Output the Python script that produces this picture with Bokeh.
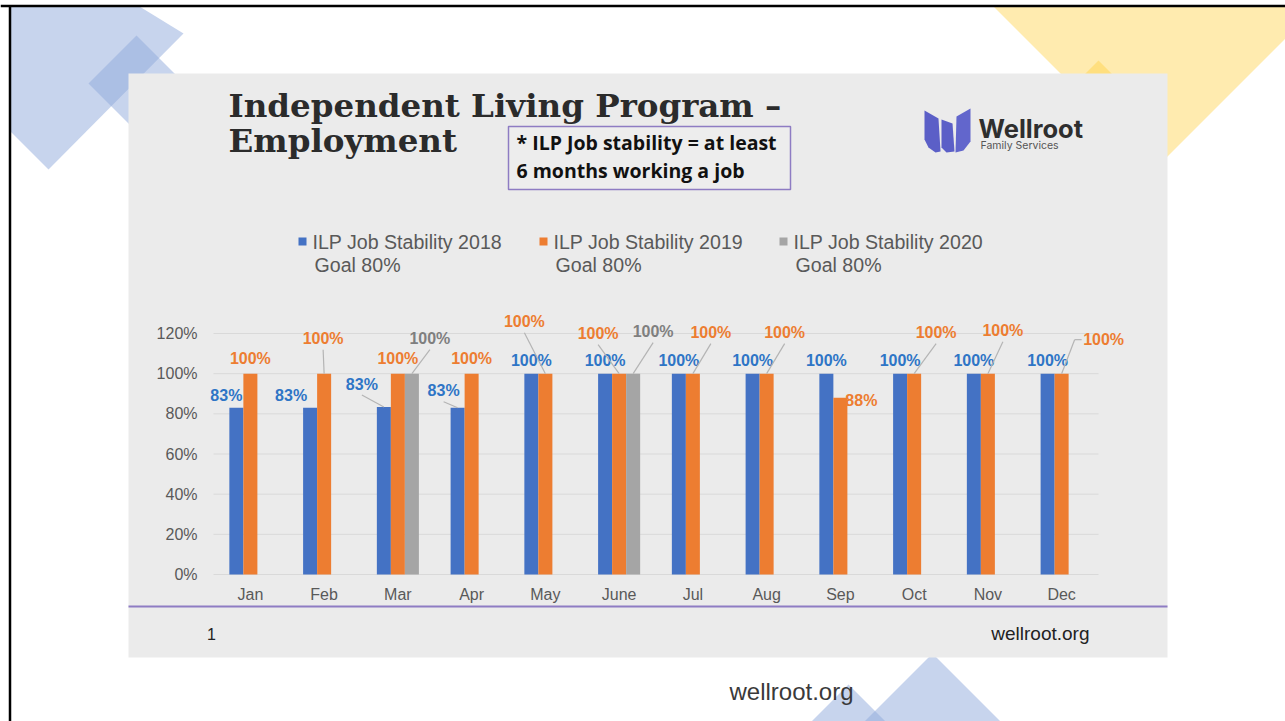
from bokeh.plotting import figure
from bokeh.plotting.glyph_api import GlyphAPI
from bokeh.models import (Range1d, FactorRange, ColumnDataSource, CategoricalScale, LinearScale,
                          CoordinateMapping)
from bokeh.transform import dodge
from bokeh.core.properties import value
from bokeh.embed import file_html
from bokeh.resources import INLINE

# ---------------- data ----------------
months = ["Jan", "Feb", "Mar", "Apr", "May", "June", "Jul", "Aug", "Sep", "Oct", "Nov", "Dec"]
series_names = ["ILP Job Stability 2018", "ILP Job Stability 2019", "ILP Job Stability 2020"]
series_sub = ["Goal 80%", "Goal 80%", "Goal 80%"]
v2018 = [0.83, 0.83, 0.834, 0.83, 1.0, 1.0, 1.0, 1.0, 1.0, 1.0, 1.0, 1.0]
v2019 = [1.0, 1.0, 1.0, 1.0, 1.0, 1.0, 1.0, 1.0, 0.88, 1.0, 1.0, 1.0]
v2020 = [None, None, 1.0, None, None, 1.0, None, None, None, None, None, None]
y_ticks = [0, 0.2, 0.4, 0.6, 0.8, 1.0, 1.2]
y_tick_labels = ["0%", "20%", "40%", "60%", "80%", "100%", "120%"]

# ---------------- styling ----------------
colors = ["#4472c4", "#ed7d31", "#a5a5a5"]
label_colors = ["#2e75c6", "#ed7d31", "#7f7f7f"]
bar_offsets = [-0.19, 0.0, 0.19]
bar_width = 0.19
# label offsets in pixels (dx right, dy up) relative to bar top centre, leader kind
lab_dx = [
    [-10, -19, -22, -14, 0, 0, 0, 0, 0, 0, 0, 0],
    [0, -1, 0, 0, -21, -21, 18, 18, 21, 22, 15, 42],
    [0, 0, 18, 0, 0, 20, 0, 0, 0, 0, 0, 0],
]
lab_dy = [
    [12, 12, 23, 17, 13, 13, 13, 13, 13, 13, 13, 13],
    [15, 35, 15, 15, 52, 40, 41, 41, -3, 41, 43, 34],
    [0, 0, 35, 0, 0, 42, 0, 0, 0, 0, 0, 0],
]
leader = [
    [0, 0, 1, 1, 0, 0, 0, 0, 0, 0, 0, 0],
    [0, 1, 0, 0, 1, 1, 1, 1, 0, 1, 1, 2],
    [0, 0, 1, 0, 0, 1, 0, 0, 0, 0, 0, 0],
]

W, H = 1285, 721
PX0, PX1 = 213, 1098      # plot area (pixels)
PY0, PY1 = 574, 333

p = figure(width=W, height=H, x_range=Range1d(0, W), y_range=Range1d(H, 0),
           output_backend="svg", toolbar_location=None, min_border=0,
           x_axis_location=None, y_axis_location=None)
p.grid.visible = False
p.outline_line_color = None
p.background_fill_color = "white"
p.border_fill_color = "white"

SANS = value("Liberation Sans")

# ---------------- slide decorations ----------------
blue_dec = "#8faadc"
yel_dec = "#ffd75f"
p.patch([10, 139, 183, 48, 10], [6, 6, 33, 169, 131], fill_color=blue_dec, fill_alpha=0.5, line_color=None)
p.patch([136, 184, 136, 88], [35, 83, 131, 83], fill_color=blue_dec, fill_alpha=0.5, line_color=None)
p.patch([993, 1285, 1285, 1155], [6, 6, 38, 168], fill_color=yel_dec, fill_alpha=0.5, line_color=None)
p.patch([1098, 1140, 1098, 1056], [60, 102, 144, 102], fill_color=yel_dec, fill_alpha=0.6, line_color=None)
p.patch([932, 1000, 864], [653, 721, 721], fill_color=blue_dec, fill_alpha=0.5, line_color=None)
p.patch([848, 885, 811], [684, 721, 721], fill_color=blue_dec, fill_alpha=0.5, line_color=None)
p.line([0, W], [5.5, 5.5], line_color="black", line_width=2.5)
p.line([9.5, 9.5], [5, H], line_color="black", line_width=2.5)

# grey panel
p.quad(left=128, right=1167, top=73, bottom=657, fill_color="#ebebeb", line_color=None)
p.line([128, 1167], [606, 606], line_color="#8e7cc3", line_width=2)

# title
p.text(x=[228, 228], y=[105, 140], text=["Independent Living Program \u2013", "Employment"],
       text_font=value("DejaVu Serif"), text_font_style="bold", text_font_size="32.5px",
       text_color="#2b2b2b", text_baseline="middle")
# note box
p.quad(left=508, right=790, top=126, bottom=189, fill_color="#ededed", line_color="#8e7cc3", line_width=1.5)
p.text(x=[516, 516], y=[142, 170], text=["* ILP Job stability = at least", "6 months working a job"],
       text_font=value("Open Sans"), text_font_style="bold", text_font_size="19.5px",
       text_color="#111111", text_baseline="middle")

# logo
logo = "#5b5fc7"
p.patches([[924, 938, 940, 935, 928, 924], [941, 952, 954, 946, 941], [956, 970, 970, 963, 955]],
          [[110, 118, 151, 152, 147, 139], [119, 123, 151, 152, 147], [116, 108, 141, 150, 152]],
          fill_color=[logo, logo, "#6266cc"], line_color=None)
p.text(x=[978], y=[128], text=["Wellroot"], text_font=value("Inter"), text_font_style="bold",
       text_font_size="25.5px", text_color="#2e2e2e", text_baseline="middle")
p.text(x=[980], y=[145], text=["Family Services"], text_font=value("Inter"),
       text_font_size="10.5px", text_color="#555555", text_baseline="middle")

# footer
p.text(x=[211], y=[633], text=["1"], text_font=SANS, text_font_size="16px", text_color="#222222",
       text_align="center", text_baseline="middle")
p.text(x=[1089], y=[633], text=["wellroot.org"], text_font=SANS, text_font_size="19px",
       text_color="#222222", text_align="right", text_baseline="middle")
p.text(x=[791], y=[691], text=["wellroot.org"], text_font=SANS, text_font_size="24px",
       text_color="#3a3a3a", text_align="center", text_baseline="middle")

# legend
leg_x = [298, 539, 779]
p.quad(left=leg_x, right=[x + 8 for x in leg_x], top=[237] * 3, bottom=[245] * 3,
       fill_color=colors, line_color=None)
p.text(x=[x + 14 for x in leg_x], y=[241] * 3, text=series_names, text_font=SANS,
       text_font_size="19.6px", text_color="#595959", text_baseline="middle")
p.text(x=[x + 16 for x in leg_x], y=[264] * 3, text=series_sub, text_font=SANS,
       text_font_size="19.6px", text_color="#595959", text_baseline="middle")

# ---------------- chart (sub-coordinates) ----------------
xs = FactorRange(*months, range_padding=0, factor_padding=0)
ys = Range1d(0, 1.2)
cm = CoordinateMapping(x_source=xs, y_source=ys, x_scale=CategoricalScale(), y_scale=LinearScale(),
                       x_target=Range1d(PX0, PX1), y_target=Range1d(PY0, PY1))
sub = GlyphAPI(p, cm)
px_x = (PX1 - PX0) / len(months)
px_y = (PY0 - PY1) / ys.end

# gridlines
sub.segment(x0=[(months[0], -0.5)] * len(y_ticks), x1=[(months[-1], 0.5)] * len(y_ticks),
            y0=y_ticks, y1=y_ticks, line_color="#d9d9d9", line_width=1)
# y tick labels
sub.text(x=[(months[0], -0.5)] * len(y_ticks), y=y_ticks, text=y_tick_labels, x_offset=-16,
         text_font=SANS, text_font_size="16px", text_color="#595959",
         text_align="right", text_baseline="middle")
# month labels
sub.text(x=months, y=[0] * len(months), text=months, y_offset=20, text_font=SANS,
         text_font_size="16px", text_color="#595959", text_align="center", text_baseline="middle")

all_vals = [v2018, v2019, v2020]
for k, vals in enumerate(all_vals):
    idx = [i for i, v in enumerate(vals) if v is not None]
    src = ColumnDataSource(dict(
        month=[months[i] for i in idx],
        top=[vals[i] for i in idx],
        lbl=["{:.0f}%".format(vals[i] * 100) for i in idx],
        dx=[lab_dx[k][i] for i in idx],
        dy=[-lab_dy[k][i] for i in idx],
    ))
    sub.vbar(x=dodge("month", bar_offsets[k], range=xs), top="top", bottom=0, width=bar_width,
             source=src, fill_color=colors[k], line_color=None)
    x0s, y0s, x1s, y1s = [], [], [], []
    for i in idx:
        kind = leader[k][i]
        if kind == 0:
            continue
        bx = bar_offsets[k]
        top = vals[i]
        if kind == 1:
            ex = bx + lab_dx[k][i] / px_x
            ey = top + (lab_dy[k][i] - 11) / px_y
            x0s.append((months[i], bx)); y0s.append(top)
            x1s.append((months[i], ex)); y1s.append(ey)
        else:
            kx = bx + (lab_dx[k][i] - 29) / px_x
            ky = top + lab_dy[k][i] / px_y
            ex = bx + (lab_dx[k][i] - 22) / px_x
            x0s += [(months[i], bx), (months[i], kx)]
            y0s += [top, ky]
            x1s += [(months[i], kx), (months[i], ex)]
            y1s += [ky, ky]
    if x0s:
        sub.segment(x0=x0s, y0=y0s, x1=x1s, y1=y1s, line_color="#b4b4b4", line_width=1.2)
    sub.text(x=dodge("month", bar_offsets[k], range=xs), y="top", text="lbl", x_offset="dx",
             y_offset="dy", source=src, text_font=SANS, text_font_style="bold",
             text_font_size="16px", text_color=label_colors[k], text_align="center",
             text_baseline="middle")

open("out.html", "w").write(file_html(p, INLINE))
